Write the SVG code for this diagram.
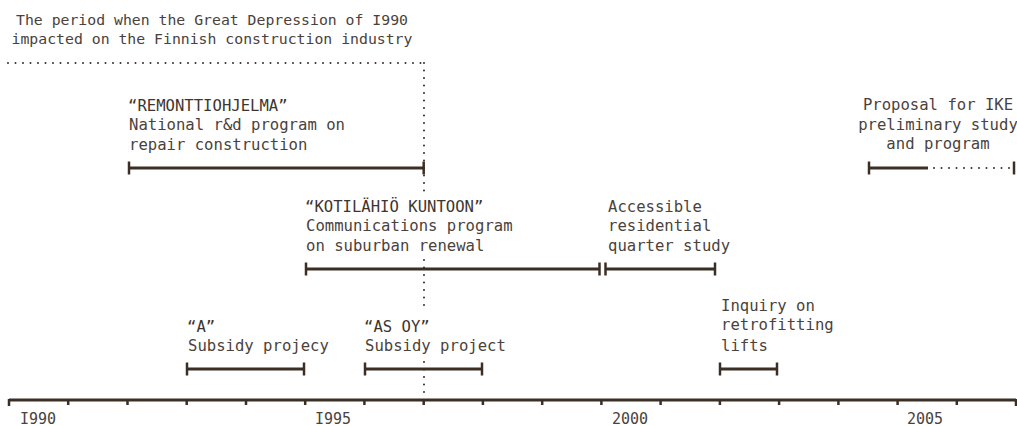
<svg xmlns="http://www.w3.org/2000/svg" width="1017" height="426" viewBox="0 0 1017 426">
  <style>
    text { font-family: "DejaVu Sans Mono", "Liberation Mono", monospace; fill: #4b423c; }
    .title { font-size: 14.8px; }
    .lbl { font-size: 15.6px; }
    .quote { font-size: 15.6px; fill: #3f352f; }
    .year { font-size: 15px; }
    .bar { stroke: #3b2e25; stroke-width: 3; fill: none; }
    .cap { stroke: #3b2e25; stroke-width: 2.5; fill: none; }
    .dots { stroke: #3b2e25; stroke-width: 2; stroke-linecap: round; stroke-dasharray: 0 7.5; fill: none; }
    .axis { stroke: #3b2e25; stroke-width: 3; fill: none; }
    .tick { stroke: #3b2e25; stroke-width: 2.5; fill: none; }
  </style>
  <defs>
    <!-- end cap for period bars -->
    <path id="endcap" class="cap" d="M0,-6.5 V6.5"/>
  </defs>

  <rect width="1017" height="426" fill="#ffffff"/>

  <!-- depression period marker -->
  <g id="depression">
    <text class="title" text-anchor="middle" x="212" y="24.5">The period when the Great Depression of I990</text>
    <text class="title" text-anchor="middle" x="212" y="44">impacted on the Finnish construction industry</text>
    <path class="dots" d="M8,63 H424"/>
    <path class="dots" d="M424,63 V193 M424,260 V312 M424,362 V396"/>
  </g>

  <!-- time axis -->
  <g id="axis">
    <path class="axis" d="M9,400 H1016"/>
    <path class="tick" d="M9,399 V406 M68.2,400 V405 M127.5,400 V405 M186.7,400 V405 M246,400 V405 M305.2,400 V405 M364.4,400 V405 M423.7,400 V405 M482.9,400 V405 M542.2,400 V405 M601.4,400 V405 M660.6,400 V405 M719.9,400 V405 M779.1,400 V405 M838.4,400 V405 M897.6,400 V405 M956.8,400 V405 M1016,399 V406"/>
    <text class="year" x="20" y="424">I990</text>
    <text class="year" x="315" y="424">I995</text>
    <text class="year" x="612" y="424">2000</text>
    <text class="year" x="907" y="424">2005</text>
  </g>

  <!-- programmes and studies -->
  <g id="remonttiohjelma">
    <text class="quote" x="128" y="110.5">“REMONTTIOHJELMA”</text>
    <text class="lbl" x="129" y="130">National r&amp;d program on</text>
    <text class="lbl" x="129" y="149.5">repair construction</text>
    <path class="bar" d="M129,168 H423.7"/>
    <use href="#endcap" x="129" y="168"/>
    <use href="#endcap" x="423.7" y="168"/>
  </g>

  <g id="ike-proposal">
    <text class="lbl" text-anchor="middle" x="938" y="110">Proposal for IKE</text>
    <text class="lbl" text-anchor="middle" x="938" y="129.5">preliminary study</text>
    <text class="lbl" text-anchor="middle" x="938" y="149">and program</text>
    <path class="bar" d="M869,168 H928"/>
    <path class="dots" d="M934,168 H1010"/>
    <use href="#endcap" x="869" y="168"/>
    <use href="#endcap" x="1014" y="168"/>
  </g>

  <g id="kotilahio-kuntoon">
    <text class="quote" x="305" y="211.5">“KOTILÄHIÖ KUNTOON”</text>
    <text class="lbl" x="306" y="231">Communications program</text>
    <text class="lbl" x="306" y="250.5">on suburban renewal</text>
    <path class="bar" d="M306,269 H599.5"/>
    <use href="#endcap" x="306" y="269"/>
    <use href="#endcap" x="599.5" y="269"/>
  </g>

  <g id="accessible-quarter">
    <text class="lbl" x="608" y="211.5">Accessible</text>
    <text class="lbl" x="608" y="231">residential</text>
    <text class="lbl" x="608" y="250.5">quarter study</text>
    <path class="bar" d="M605.5,269 H715"/>
    <use href="#endcap" x="605.5" y="269"/>
    <use href="#endcap" x="715" y="269"/>
  </g>

  <g id="a-subsidy">
    <text class="quote" x="187" y="331.5">“A”</text>
    <text class="lbl" x="188" y="351">Subsidy projecy</text>
    <path class="bar" d="M187,369 H304"/>
    <use href="#endcap" x="187" y="369"/>
    <use href="#endcap" x="304" y="369"/>
  </g>

  <g id="as-oy-subsidy">
    <text class="quote" x="364" y="331.5">“AS OY”</text>
    <text class="lbl" x="365" y="351">Subsidy project</text>
    <path class="bar" d="M365,369 H482"/>
    <use href="#endcap" x="365" y="369"/>
    <use href="#endcap" x="482" y="369"/>
  </g>

  <g id="lifts-inquiry">
    <text class="lbl" x="721" y="310.5">Inquiry on</text>
    <text class="lbl" x="721" y="330">retrofitting</text>
    <text class="lbl" x="721" y="350.5">lifts</text>
    <path class="bar" d="M720,369 H777"/>
    <use href="#endcap" x="720" y="369"/>
    <use href="#endcap" x="777" y="369"/>
  </g>
</svg>
